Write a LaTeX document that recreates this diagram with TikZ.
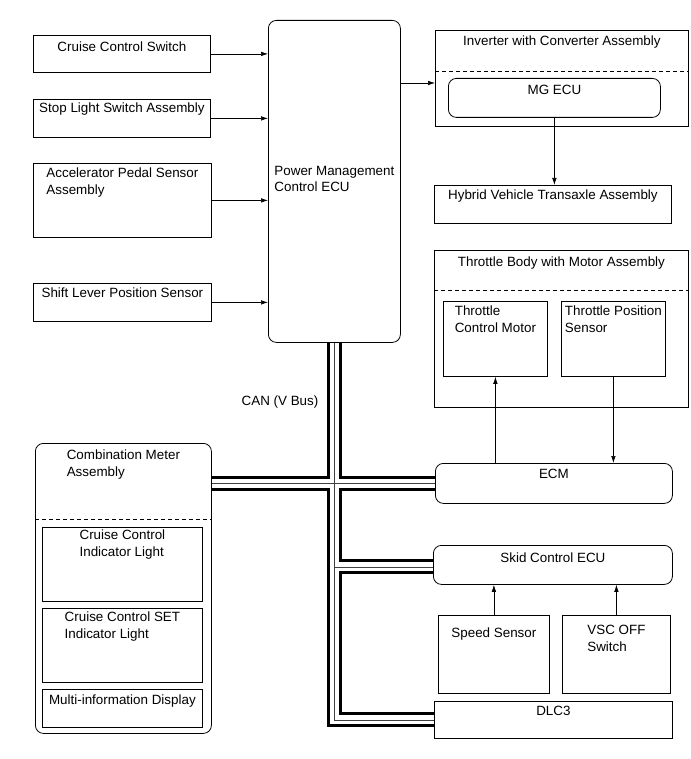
\documentclass[tikz,border=0pt]{standalone}
\usepackage{fontspec}
\setmainfont{Liberation Sans}
\usetikzlibrary{arrows.meta,backgrounds}
\begin{document}
\begin{tikzpicture}[x=1pt,y=-1pt,
  box/.style={draw, line width=0.8pt, inner sep=0pt, anchor=north west},
  rbox/.style={box, rounded corners=8pt},
  txt/.style={font=\fontsize{13.4}{16.5}\selectfont, align=left, inner sep=0pt, anchor=north},
  arr/.style={line width=0.6pt, -{Latex[length=7pt,width=4.5pt]}},
  dashline/.style={line width=0.7pt, dash pattern=on 4pt off 3pt},
  bus/.style={line width=15pt, black,
    postaction={draw, white, line width=9pt},
    postaction={draw, black!75, line width=0.8pt}}]
\useasboundingbox (0,0) rectangle (690,759);

% left input boxes
\node[box, minimum width=177pt, minimum height=37pt] (ccs) at (33,35) {};
\node[txt] (ccsT) at ([yshift=-7pt]ccs.north) {Cruise Control Switch};
\node[box, minimum width=177pt, minimum height=38pt] (sls) at (33,99) {};
\node[txt] (slsT) at ([yshift=-4pt]sls.north) {Stop Light Switch Assembly};
\node[box, minimum width=178pt, minimum height=74pt] (aps) at (33,163) {};
\node[txt] (apsT) at ([yshift=-5pt]aps.north) {Accelerator Pedal Sensor\\Assembly};
\node[box, minimum width=178pt, minimum height=38pt] (slps) at (33,283) {};
\node[txt] (slpsT) at ([yshift=-5pt]slps.north) {Shift Lever Position Sensor};

% power management ECU
\node[rbox, minimum width=132pt, minimum height=322pt] (pmc) at (268,20) {};
\node[txt] (pmcT) at ([yshift=-146pt]pmc.north) {Power Management\\Control ECU};

% inverter
\node[box, minimum width=253pt, minimum height=96pt] (inv) at (435,30) {};
\node[txt] (invT) at ([yshift=-6pt]inv.north) {Inverter with Converter Assembly};
\draw[dashline] (inv.west |- 0,71) -- (inv.east |- 0,71);
\node[rbox, minimum width=212pt, minimum height=39pt] (mg) at (448,78) {};
\node[txt] (mgT) at ([yshift=-7pt]mg.north) {MG ECU};

\node[box, minimum width=237pt, minimum height=38pt] (hvta) at (434,185) {};
\node[txt] (hvtaT) at ([yshift=-5pt]hvta.north) {Hybrid Vehicle Transaxle Assembly};

% throttle body
\node[box, minimum width=254pt, minimum height=157pt] (tb) at (434,250) {};
\node[txt] (tbT) at ([yshift=-7pt]tb.north) {Throttle Body with Motor Assembly};
\draw[dashline] (tb.west |- 0,290) -- (tb.east |- 0,290);
\node[box, minimum width=104pt, minimum height=75pt] (tcm) at (443,301) {};
\node[txt] (tcmT) at ([yshift=-5pt]tcm.north) {Throttle\\Control Motor};
\node[box, minimum width=104pt, minimum height=75pt] (tps) at (561,301) {};
\node[txt] (tpsT) at ([yshift=-5pt]tps.north) {Throttle Position\\Sensor};

% ECM, skid
\node[rbox, minimum width=237pt, minimum height=40pt] (ecm) at (435,463) {};
\node[txt] (ecmT) at ([yshift=-6pt]ecm.north) {ECM};
\node[rbox, minimum width=239pt, minimum height=39pt] (skid) at (433,545) {};
\node[txt] (skidT) at ([yshift=-8pt]skid.north) {Skid Control ECU};
\node[box, minimum width=111pt, minimum height=78pt] (spd) at (438,615) {};
\node[txt] (spdT) at ([yshift=-13pt]spd.north) {Speed Sensor};
\node[box, minimum width=108pt, minimum height=78pt] (vsc) at (562,615) {};
\node[txt] (vscT) at ([yshift=-10pt]vsc.north) {VSC OFF\\Switch};
\node[box, minimum width=238pt, minimum height=37pt] (dlc) at (434,701) {};
\node[txt] (dlcT) at ([yshift=-5pt]dlc.north) {DLC3};

% combination meter
\node[rbox, minimum width=176pt, minimum height=290pt] (cm) at (35,443) {};
\node[txt] (cmT) at ([yshift=-7pt]cm.north) {Combination Meter\\Assembly};
\draw[dashline] (cm.west |- 0,519) -- (cm.east |- 0,519);
\node[box, minimum width=160pt, minimum height=74pt] (ccil) at (42,527) {};
\node[txt] (ccilT) at ([yshift=-3pt]ccil.north) {Cruise Control\\Indicator Light};
\node[box, minimum width=160pt, minimum height=74pt] (setl) at (42,608) {};
\node[txt] (setlT) at ([yshift=-4pt]setl.north) {Cruise Control SET\\Indicator Light};
\node[box, minimum width=160pt, minimum height=38pt] (mid) at (42,689) {};
\node[txt] (midT) at ([yshift=-6pt]mid.north) {Multi-information Display};

\node[txt, anchor=center] (can) at (280,402) {CAN (V Bus)};

% arrows
\draw[arr] (ccs.east) -- (ccs.east -| pmc.west);
\draw[arr] (sls.east) -- (sls.east -| pmc.west);
\draw[arr] (aps.east) -- (aps.east -| pmc.west);
\draw[arr] (slps.east) -- (slps.east -| pmc.west);
\draw[arr] ([yshift=-63pt]pmc.north east) -- ([yshift=-63pt]pmc.north east -| inv.west);
\draw[arr] (mg.south) -- (mg.south |- hvta.north);
\draw[arr] (tcm.south |- ecm.north) -- (tcm.south);
\draw[arr] (tps.south) -- (tps.south |- ecm.north);
\draw[arr] (spd.north) -- (spd.north |- skid.south);
\draw[arr] (vsc.north) -- (vsc.north |- skid.south);

% CAN bus
\begin{pgfonlayer}{background}
\draw[bus] (pmc.south) -- (pmc.south |- dlc.west) -- (dlc.west)
  (cm.east |- ecm.west) -- (ecm.west)
  ([yshift=-2pt]pmc.south |- skid.west) -- ([yshift=-2pt]skid.west);
\end{pgfonlayer}
\end{tikzpicture}
\end{document}
